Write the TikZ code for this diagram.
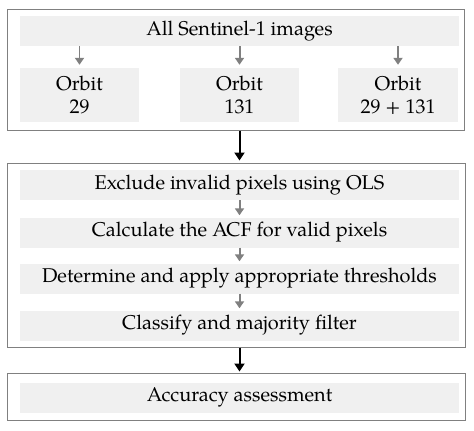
\documentclass[tikz,border=0pt]{standalone}
\usepackage{fontspec}
\setmainfont{TeX Gyre Pagella}
\usetikzlibrary{arrows.meta, positioning}

\begin{document}
\begin{tikzpicture}[
  x=1bp, y=-1bp,
  every node/.style={font=\fontsize{20}{23}\selectfont, align=center, inner sep=0pt},
  frame/.style={draw=black!50, line width=1pt},
  band/.style={fill=black!6, minimum height=30bp},
  substep/.style={-{Triangle[length=7bp, width=9bp]}, draw=black!50, line width=2pt},
  mainstep/.style={-{Triangle[length=8bp, width=10bp]}, line width=2pt}
]
\useasboundingbox (0,0) rectangle (474,430);
% Frames
\node[frame, minimum width=456bp, minimum height=121bp] (input) at (236,69.5) {};
\node[frame, minimum width=457bp, minimum height=184bp] (process) at (236.5,255) {};
\node[frame, minimum width=457bp, minimum height=47bp] (check) at (236.5,396.5) {};

% Input data
\node[band, minimum width=439bp] (all) at (239.5,31) {All Sentinel-1 images};
\node[band, minimum width=119bp, minimum height=54bp] (orbitA) at (79.5,95) {Orbit\\29};
\node[band, minimum width=119bp, minimum height=54bp] (orbitB) at (239.5,95) {Orbit\\131};
\node[band, minimum width=120bp, minimum height=54bp] (orbitC) at (398,95) {Orbit\\29 + 131};

% Processing steps
\node[band, minimum width=439bp] (exclude) at (239.5,185) {Exclude invalid pixels using OLS};
\node[band, minimum width=439bp] (acf) at (239.5,232.5) {Calculate the ACF for valid pixels};
\node[band, minimum width=439bp] (thresh) at (239.5,278.5) {Determine and apply appropriate thresholds};
\node[band, minimum width=439bp] (classify) at (239.5,325.5) {Classify and majority filter};

% Assessment
\node[band, minimum width=439bp] (accuracy) at (239.5,397.5) {Accuracy assessment};

% Edges
\foreach \o in {orbitA, orbitB, orbitC}
  \draw[substep, shorten >=3bp] (all.south -| \o) -- (\o.north);
\draw[substep, shorten >=2bp] (exclude) -- (acf);
\draw[substep, shorten >=2bp] (acf) -- (thresh);
\draw[substep, shorten >=2bp] (thresh) -- (classify);

\draw[mainstep, shorten >=2bp] (input.south -| all) -- (process.north -| all);
\draw[mainstep, shorten >=1bp] (process.south -| all) -- (check.north -| all);
\end{tikzpicture}
\end{document}
